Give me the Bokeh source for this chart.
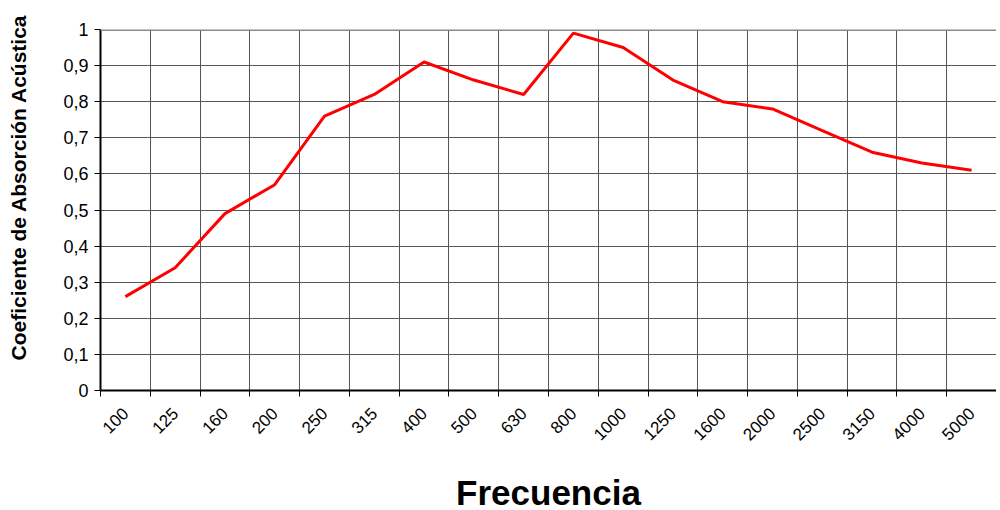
import math
from bokeh.plotting import figure
from bokeh.models import FixedTicker, Span, Title
from bokeh.embed import file_html
from bokeh.resources import INLINE

frequencies = ["100", "125", "160", "200", "250", "315", "400", "500", "630",
               "800", "1000", "1250", "1600", "2000", "2500", "3150", "4000", "5000"]
absorption = [0.26, 0.34, 0.49, 0.57, 0.76, 0.82, 0.91, 0.86, 0.82,
              0.99, 0.95, 0.86, 0.80, 0.78, 0.72, 0.66, 0.63, 0.61]
y_ticks = [0, 0.1, 0.2, 0.3, 0.4, 0.5, 0.6, 0.7, 0.8, 0.9, 1.0]
y_labels = ["0", "0,1", "0,2", "0,3", "0,4", "0,5", "0,6", "0,7", "0,8", "0,9", "1"]

n = len(frequencies)
centers = [i + 0.5 for i in range(n)]
bounds = list(range(n + 1))

FONT = "Liberation Sans"

p = figure(frame_width=896, frame_height=361, x_range=(0, n), y_range=(0, 1),
           output_backend="svg", toolbar_location=None,
           min_border_left=100, min_border_top=29, min_border_right=0, min_border_bottom=0)
p.background_fill_color = "white"
p.border_fill_color = "white"
p.outline_line_color = None

# x axis: labels at category centers, ticks/grid at category boundaries
xa = p.xaxis[0]
xa.ticker = FixedTicker(ticks=centers, minor_ticks=bounds)
xa.major_label_overrides = {c: f for c, f in zip(centers, frequencies)}
xa.major_label_orientation = math.pi / 4
xa.major_tick_in = 0
xa.major_tick_out = 0
xa.minor_tick_in = 0
xa.minor_tick_out = 6
xa.minor_tick_line_color = "black"
xa.minor_tick_line_width = 1
xa.axis_line_color = "black"
xa.axis_line_width = 2
xa.major_label_text_font = FONT
xa.major_label_text_font_size = "17px"
xa.major_label_text_color = "black"
xa.major_label_standoff = 14
xa.axis_label = "Frecuencia"
xa.axis_label_text_font = FONT
xa.axis_label_text_font_style = "bold"
xa.axis_label_text_font_size = "35px"
xa.axis_label_text_color = "black"
xa.axis_label_standoff = 24

p.xgrid.grid_line_color = None
p.xgrid.minor_grid_line_color = "#555555"
p.xgrid.minor_grid_line_width = 1

ya = p.yaxis[0]
ya.ticker = FixedTicker(ticks=y_ticks)
ya.major_label_overrides = {t: l for t, l in zip(y_ticks, y_labels)}
ya.major_tick_in = 0
ya.major_tick_out = 6
ya.minor_tick_line_color = None
ya.axis_line_color = "black"
ya.axis_line_width = 2
ya.major_label_text_font = FONT
ya.major_label_text_font_size = "18px"
ya.major_label_text_color = "black"
ya.major_label_standoff = 6

p.ygrid.grid_line_color = "#555555"
p.ygrid.grid_line_width = 1

# spacer panel between the y axis and its title
p.add_layout(Title(text=" ", text_font_size="1px", standoff=26), "left")
p.add_layout(Title(text="Coeficiente de Absorción Acústica", align="left", offset=30,
                   vertical_align="top",
                   text_font=FONT, text_font_style="bold", text_font_size="21px",
                   text_color="black", standoff=0), "left")

p.add_layout(Span(location=1, dimension="width", line_color="#8c8c8c", line_width=3))

p.line(centers, absorption, line_color="#ff0000", line_width=3)

open("out.html", "w").write(file_html(p, INLINE))
